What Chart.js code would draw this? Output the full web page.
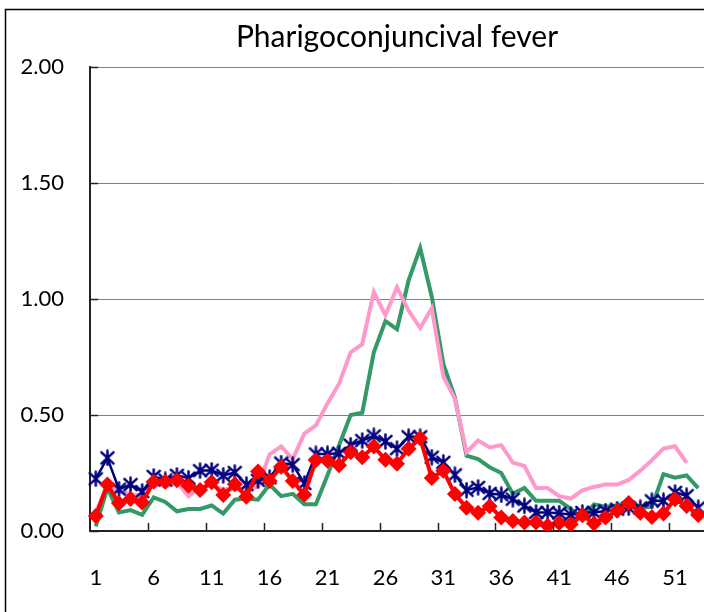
<!DOCTYPE html>
<html>
<head>
<meta charset="utf-8">
<script src="https://cdn.jsdelivr.net/npm/chart.js@4.4.0/dist/chart.umd.min.js"></script>
<style>
  html, body { margin: 0; padding: 0; background: #fff; }
  #wrap { position: relative; width: 704px; height: 612px; }
</style>
</head>
<body>
<div id="wrap"><canvas id="chart"></canvas></div>
<script>
// week numbers
const weeks = ["1","2","3","4","5","6","7","8","9","10","11","12","13","14","15","16","17","18","19","20",
  "21","22","23","24","25","26","27","28","29","30","31","32","33","34","35","36","37","38","39","40",
  "41","42","43","44","45","46","47","48","49","50","51","52","53"];

const yTicks = [0, 0.5, 1, 1.5, 2];

// green line, no markers
const seriesGreen = [0.02, 0.185, 0.08, 0.09, 0.07, 0.145, 0.125, 0.085, 0.095, 0.095,
  0.11, 0.075, 0.135, 0.14, 0.135, 0.20, 0.15, 0.16, 0.115, 0.115,
  0.24, 0.37, 0.50, 0.51, 0.77, 0.905, 0.87, 1.08, 1.22, 1.01,
  0.72, 0.575, 0.325, 0.31, 0.275, 0.25, 0.16, 0.185, 0.13, 0.13,
  0.13, 0.095, 0.055, 0.115, 0.105, 0.11, 0.125, 0.10, 0.105, 0.245,
  0.23, 0.24, 0.185];

// pink line, no markers
const seriesPink = [0.08, 0.20, 0.17, 0.16, 0.15, 0.21, 0.19, 0.21, 0.15, 0.19,
  0.195, 0.18, 0.18, 0.18, 0.19, 0.33, 0.365, 0.31, 0.42, 0.455,
  0.55, 0.635, 0.77, 0.805, 1.03, 0.93, 1.05, 0.95, 0.875, 0.96,
  0.665, 0.57, 0.34, 0.39, 0.36, 0.37, 0.295, 0.28, 0.185, 0.185,
  0.15, 0.14, 0.175, 0.19, 0.20, 0.20, 0.22, 0.26, 0.305, 0.355,
  0.365, 0.295, null];

// navy line with star markers
const seriesNavy = [0.225, 0.315, 0.18, 0.20, 0.17, 0.235, 0.22, 0.24, 0.228, 0.26,
  0.262, 0.24, 0.252, 0.20, 0.218, 0.23, 0.293, 0.286, 0.205, 0.332,
  0.332, 0.335, 0.37, 0.39, 0.41, 0.386, 0.355, 0.406, 0.406, 0.318,
  0.296, 0.242, 0.176, 0.188, 0.162, 0.156, 0.137, 0.108, 0.08, 0.08,
  0.077, 0.07, 0.08, 0.08, 0.086, 0.094, 0.10, 0.10, 0.13, 0.13,
  0.166, 0.152, 0.10];

// red line with diamond markers
const seriesRed = [0.065, 0.20, 0.12, 0.138, 0.123, 0.212, 0.212, 0.219, 0.195, 0.177,
  0.21, 0.155, 0.202, 0.148, 0.257, 0.216, 0.277, 0.216, 0.156, 0.305,
  0.303, 0.283, 0.339, 0.318, 0.364, 0.307, 0.29, 0.354, 0.40, 0.228,
  0.26, 0.159, 0.10, 0.079, 0.107, 0.058, 0.043, 0.037, 0.037, 0.023,
  0.034, 0.029, 0.068, 0.032, 0.058, 0.087, 0.121, 0.079, 0.06, 0.075,
  0.137, 0.108, 0.069];

// asterisk marker like the excel "star"
function makeStar(size, color) {
  const c = document.createElement("canvas");
  c.width = size; c.height = size;
  const g = c.getContext("2d");
  const m = size / 2, r = size / 2 - 1.5;
  g.strokeStyle = color;
  g.lineWidth = 2.5;
  g.lineCap = "round";
  g.beginPath();
  g.moveTo(m, m - r); g.lineTo(m, m + r);
  g.moveTo(m - r * 0.87, m - r * 0.8); g.lineTo(m + r * 0.87, m + r * 0.8);
  g.moveTo(m + r * 0.87, m - r * 0.8); g.lineTo(m - r * 0.87, m + r * 0.8);
  g.stroke();
  return c;
}

// outer frame + inside tick marks
const frameAndTicks = {
  id: "frameAndTicks",
  afterDraw(chart) {
    const { ctx, chartArea: a, scales: { x, y } } = chart;
    ctx.save();
    ctx.strokeStyle = "#000";
    ctx.lineWidth = 1.5;
    ctx.strokeRect(5.5, 9.5, 800, 700);

    ctx.strokeStyle = "#222";
    ctx.lineWidth = 1.5;
    ctx.beginPath();
    const half = (x.getPixelForValue(1) - x.getPixelForValue(0)) / 2;
    for (let i = 5; i < weeks.length; i += 5) {
      const px = Math.round(x.getPixelForValue(i) - half) + 0.5;
      ctx.moveTo(px, a.bottom);
      ctx.lineTo(px, a.bottom - 8);
    }
    yTicks.forEach(v => {
      const py = Math.round(y.getPixelForValue(v)) + 0.5;
      ctx.moveTo(a.left, py);
      ctx.lineTo(a.left + 8, py);
    });
    ctx.stroke();
    ctx.restore();
  }
};

Chart.defaults.font.family = "Lato, 'DejaVu Sans', sans-serif";
Chart.defaults.color = "#000";

new Chart(document.getElementById("chart"), {
  type: "line",
  data: {
    labels: weeks,
    datasets: [
      {
        label: "red",
        data: seriesRed,
        borderColor: "#ff0000",
        backgroundColor: "#ff0000",
        borderWidth: 4,
        pointStyle: "rectRot",
        pointRadius: 8,
        pointBorderWidth: 0,
        tension: 0,
        order: 0,
      },
      {
        label: "navy",
        data: seriesNavy,
        borderColor: "#000080",
        backgroundColor: "#000080",
        borderWidth: 2.5,
        pointStyle: makeStar(17, "#000080"),
        pointRadius: 8,
        tension: 0,
        order: 1,
      },
      {
        label: "pink",
        data: seriesPink,
        borderColor: "#ff99cc",
        borderWidth: 4,
        pointRadius: 0,
        tension: 0,
        order: 2,
      },
      {
        label: "green",
        data: seriesGreen,
        borderColor: "#339966",
        borderWidth: 4,
        pointRadius: 0,
        tension: 0,
        order: 3,
      },
    ],
  },
  options: {
    responsive: true,
    maintainAspectRatio: false,
    animation: false,
    events: [],
    layout: { autoPadding: false, padding: { left: 0, right: 0, top: 0, bottom: 0 } },
    plugins: {
      legend: { display: false },
      tooltip: { enabled: false },
      title: {
        display: true,
        text: "Pharigoconjuncival fever",
        fullSize: false,
        color: "#000",
        font: { size: 30, weight: "normal" },
        padding: { top: 19, bottom: 12 },
      },
    },
    scales: {
      x: {
        offset: true,
        grid: {
          display: true,
          drawOnChartArea: false,
          drawTicks: true,
          tickLength: 34,
          color: "rgba(0,0,0,0)",
        },
        border: { display: true, color: "#222", width: 2 },
        ticks: {
          autoSkip: false,
          maxRotation: 0,
          padding: 0,
          font: { size: 22 },
          callback: (v, i) => (i % 5 === 0 ? weeks[i] : ""),
        },
        afterFit: s => { s.height = 81; },
      },
      y: {
        min: 0,
        max: 2,
        grid: { color: "#808080", lineWidth: 1, drawTicks: false },
        border: { display: true, color: "#222", width: 2 },
        ticks: {
          stepSize: 0.5,
          padding: 26,
          font: { size: 22 },
          callback: v => v.toFixed(2),
        },
        afterFit: s => { s.width = 90; },
      },
    },
  },
  plugins: [frameAndTicks],
});
</script>
</body>
</html>
